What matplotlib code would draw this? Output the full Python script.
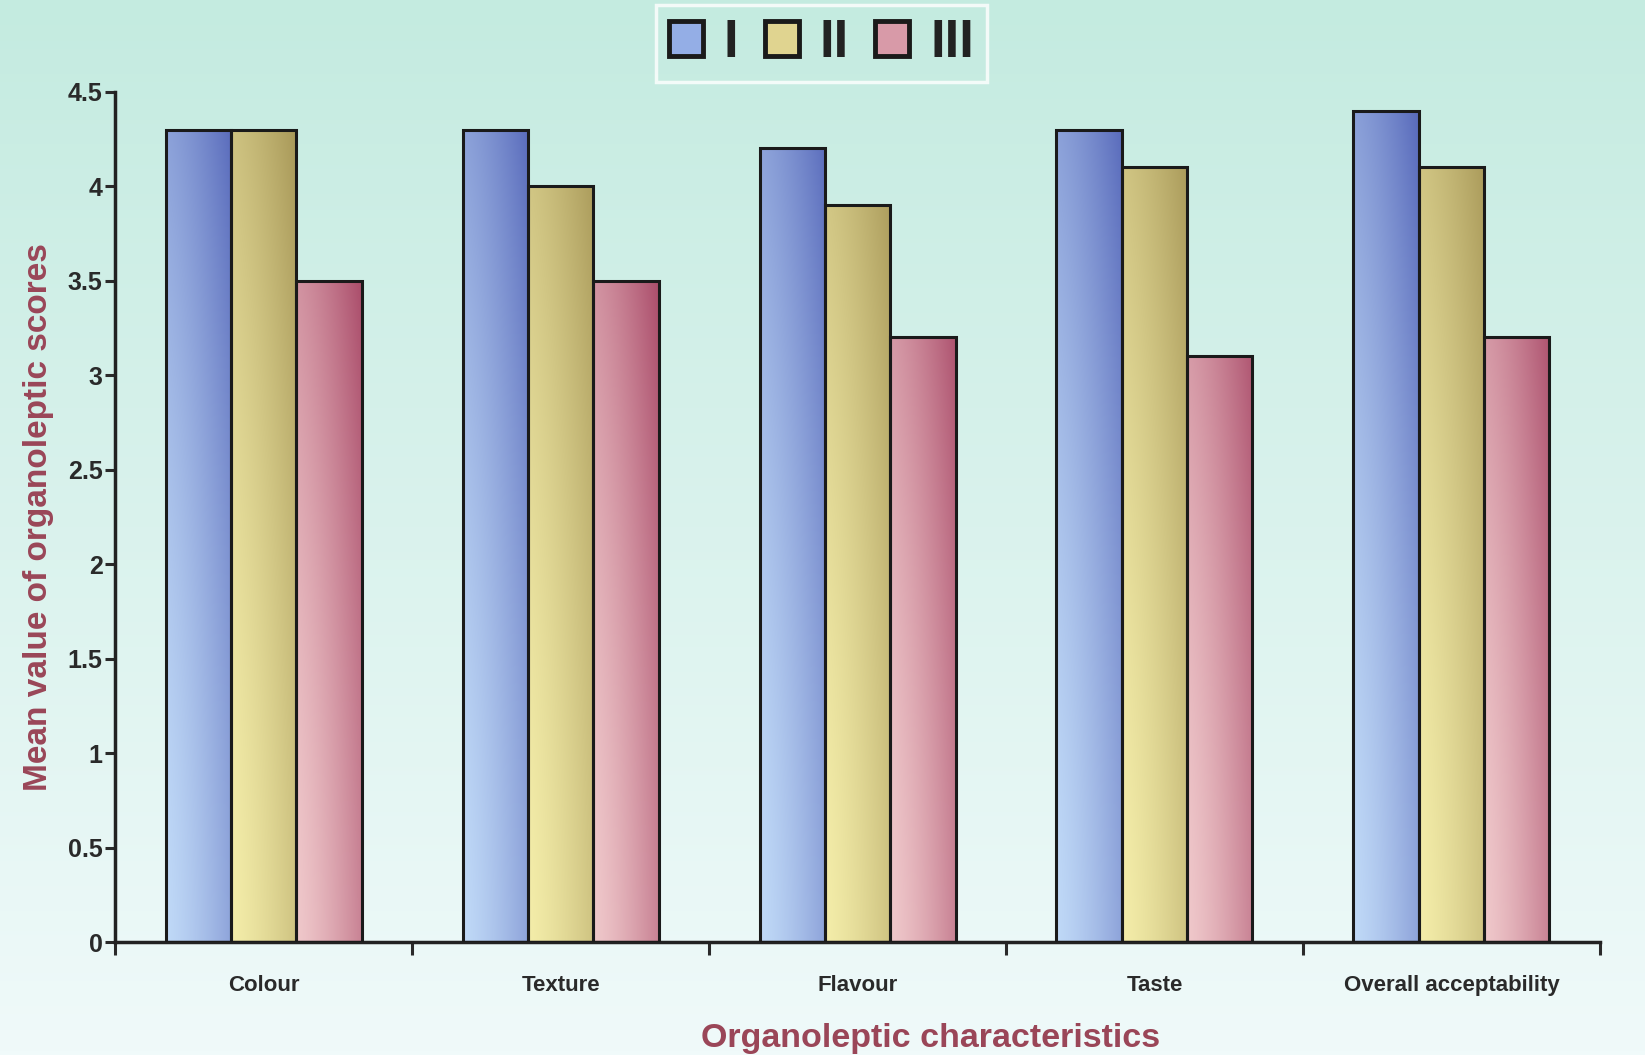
import numpy as np
import matplotlib
matplotlib.use("Agg")
import matplotlib.pyplot as plt
from matplotlib.colors import to_rgb
from matplotlib.patches import Patch

categories = ["Colour", "Texture", "Flavour", "Taste", "Overall acceptability"]
series_names = ["I", "II", "III"]
values_I = [4.3, 4.3, 4.2, 4.3, 4.4]
values_II = [4.3, 4.0, 3.9, 4.1, 4.1]
values_III = [3.5, 3.5, 3.2, 3.1, 3.2]
yticks = [0, 0.5, 1, 1.5, 2, 2.5, 3, 3.5, 4, 4.5]
ytick_labels = ["0", "0.5", "1", "1.5", "2", "2.5", "3", "3.5", "4", "4.5"]

light_cols = ["#c8e2fc", "#faf4b0", "#f6d4d4"]
dark_cols = ["#5a6cbc", "#a89858", "#a03a5c"]
mid_cols = ["#94aee6", "#e0d490", "#d89aa8"]

plt.rcParams['font.family'] = ['Liberation Sans', 'DejaVu Sans']

fig = plt.figure(figsize=(16.45, 10.55), dpi=100)

# background gradient
bg = fig.add_axes([0, 0, 1, 1], zorder=-10)
top = np.array(to_rgb("#c4ebe0"))
bot = np.array(to_rgb("#f0fafa"))
g = np.linspace(0, 1, 256)[:, None, None]
img = top * (1 - g) + bot * g
img = np.repeat(img, 4, axis=1)
bg.imshow(img, aspect="auto", extent=[0, 1, 0, 1])
bg.set_axis_off()

ax = fig.add_axes([0.070, 0.107, 0.9026, 0.806])
ax.patch.set_alpha(0)

x = np.arange(len(categories))
w = 0.22
all_vals = [values_I, values_II, values_III]
for i, vals in enumerate(all_vals):
    bars = ax.bar(x + (i - 1) * w, vals, width=w, facecolor="none",
                  edgecolor="#1a1a1a", linewidth=2.2, zorder=3)
    L = np.array(to_rgb(light_cols[i]))
    D = np.array(to_rgb(dark_cols[i]))
    for b in bars:
        x0, y0 = b.get_x(), b.get_y()
        bw, bh = b.get_width(), b.get_height()
        nx, ny = 64, 128
        xf = np.linspace(0, 1, nx)[None, :]
        yv = np.linspace(bh, 0, ny)[:, None] / 4.5
        t = np.clip(0.08 + 0.45 * xf ** 1.3 + 0.5 * yv ** 1.5, 0, 1)
        im = L[None, None, :] * (1 - t[..., None]) + D[None, None, :] * t[..., None]
        imh = ax.imshow(im, extent=[x0, x0 + bw, y0, y0 + bh], aspect="auto",
                        zorder=2, interpolation="bilinear")
        imh.set_clip_path(b)

ax.set_xlim(-0.5, len(categories) - 0.5)
ax.set_ylim(0, 4.5)
ax.set_yticks(yticks)
ax.set_yticklabels(ytick_labels, fontsize=18, fontweight="bold", color="#2a2a2a")
ax.set_xticks(np.arange(-0.5, len(categories), 1.0))
ax.set_xticklabels([])
ax.set_xticks(x, minor=True)
ax.set_xticklabels(categories, minor=True, fontsize=16, fontweight="bold", color="#2a2a2a")
ax.tick_params(axis="x", which="minor", length=0, pad=24)
ax.tick_params(axis="x", which="major", length=9, width=2.2, direction="out", color="#2a2a2a")
ax.tick_params(axis="y", length=7, width=2.2, direction="out", color="#2a2a2a", pad=2)

for s in ["top", "right"]:
    ax.spines[s].set_visible(False)
for s in ["left", "bottom"]:
    ax.spines[s].set_linewidth(2.5)
    ax.spines[s].set_color("#222222")

ax.set_ylabel("Mean value of organoleptic scores", fontsize=24, fontweight="bold",
              color="#9a4658", labelpad=10)
ax.set_xlabel("Organoleptic characteristics", fontsize=24.5, fontweight="bold",
              color="#9a4658", labelpad=8)
ax.xaxis.set_label_coords(0.5495, -0.095)

handles = [Patch(facecolor=mid_cols[i], edgecolor="#1a1a1a", linewidth=3.5) for i in range(3)]
leg = fig.legend(handles, series_names, loc="upper center", bbox_to_anchor=(0.4994, 0.995),
                 ncol=3, frameon=True, prop={"weight": "heavy", "size": 38},
                 handlelength=0.64, handleheight=0.64, handletextpad=0.4, columnspacing=0.5,
                 borderpad=0.25, borderaxespad=0.0, fancybox=False)
leg.get_frame().set_facecolor("none")
leg.get_frame().set_edgecolor("white")
leg.get_frame().set_linewidth(2.5)
for t in leg.get_texts():
    t.set_color("#222222")

fig.savefig("out.png", dpi=100)
